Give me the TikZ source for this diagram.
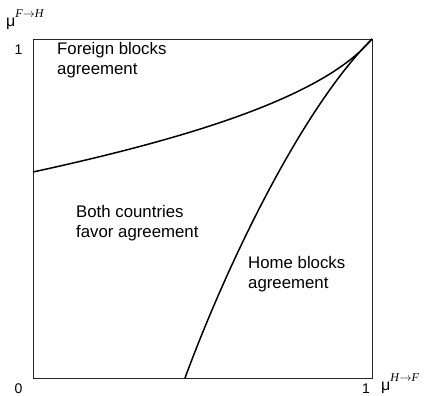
\documentclass[tikz,border=0pt]{standalone}
\usepackage{fontspec}
\setmainfont{Liberation Sans}
\newfontfamily\supserif{Liberation Serif}
\tikzset{
    region/.style={anchor=base west, inner sep=0pt, align=left,
        font=\fontsize{16.8}{20}\selectfont},
    tick/.style={anchor=base west, inner sep=0pt,
        font=\fontsize{14}{14}\selectfont},
    axislabel/.style={anchor=base west, inner sep=0pt,
        font=\fontsize{16}{16}\selectfont},
    curve/.style={line width=1.5pt, line join=round},
}
\newcommand{\supfrom}[2]{\raisebox{9pt}{\fontsize{12}{12}\selectfont
    \supserif\textit{#1}$\rightarrow$\textit{#2}}}
\begin{document}
\begin{tikzpicture}[x=1pt, y=-1pt]
            \useasboundingbox (0,0) rectangle (424,396);
            % Caja
            \coordinate (orig) at (33,378);
            \coordinate (topleft) at (33,39);
            \coordinate (corner) at (372,39);
            \coordinate (botright) at (372,378);
            \draw[line width=0.9pt, black!85] (topleft) -- (orig) -- (botright) -- (corner) -- cycle;
            % Curvas
            \coordinate (fstart) at (33,172);
            \coordinate (hstart) at (185,378);
            \draw[curve] (fstart) .. controls (180,140) and (322,99) .. (corner);
            \draw[curve] (hstart) .. controls (230,256) and (305,105) .. (corner);
            % Regiones
            \node[region] (foreign) at (57,75) {Foreign blocks\\agreement};
            \node[region] (both) at (76,237) {Both countries\\favor agreement};
            \node[region] (home) at (248,288) {Home blocks\\agreement};
            % Ejes
            \node[tick] (oneY) at (14.5,55) {1};
            \node[tick] (zero) at (14.5,393.5) {0};
            \node[tick] (oneX) at (362,393.5) {1};
            \node[axislabel] (muFH) at (6,27) {μ\supfrom{F}{H}};
            \node[axislabel] (muHF) at (381,390) {μ\supfrom{H}{F}};
        \end{tikzpicture}
\end{document}
